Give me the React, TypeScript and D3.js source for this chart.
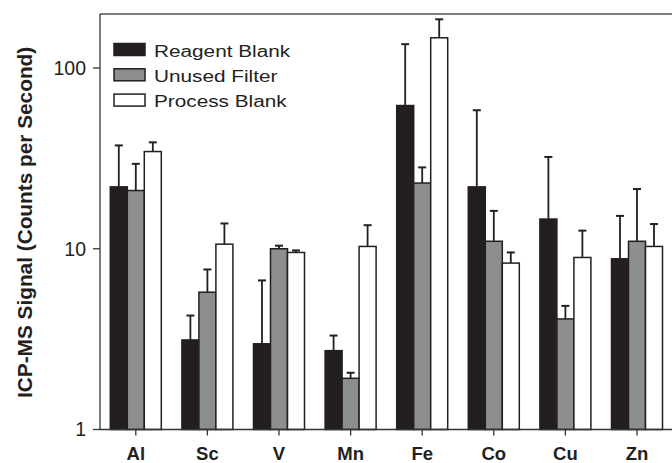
import React from "react";
import * as d3 from "d3";

const categories = ["Al", "Sc", "V", "Mn", "Fe", "Co", "Cu", "Zn"];
const seriesNames = ["Reagent Blank", "Unused Filter", "Process Blank"];
const reagentBlank = [22, 3.13, 2.98, 2.73, 62, 22, 14.6, 8.8];
const reagentBlankErrTop = [37.3, 4.27, 6.68, 3.31, 135.5, 58.4, 32.2, 15.2];
const unusedFilter = [21, 5.75, 10.0, 1.92, 23.1, 11.0, 4.09, 11.0];
const unusedFilterErrTop = [29.5, 7.68, 10.4, 2.06, 28.2, 16.2, 4.83, 21.4];
const processBlank = [34.5, 10.6, 9.54, 10.3, 147, 8.33, 8.95, 10.3];
const processBlankErrTop = [38.8, 13.8, 9.79, 13.5, 186, 9.54, 12.6, 13.7];
const yTicks = [1, 10, 100];

const values = [reagentBlank, unusedFilter, processBlank];
const errTops = [reagentBlankErrTop, unusedFilterErrTop, processBlankErrTop];
const fills = ["#231f20", "#8d8e90", "#ffffff"];

export default function App() {
  const W = 672, H = 463;
  const left = 100, right = 672.8, top = 14, bottom = 429.5;
  const y = d3.scaleLog().domain([1, 199]).range([bottom, top]);
  const x0 = d3.scaleBand().domain(categories).range([left, right]).padding(0);
  const bw = x0.bandwidth();
  const groupW = 51;
  const x1 = d3.scaleBand().domain(seriesNames).range([0, groupW]).padding(0);
  const barW = x1.bandwidth();
  const dark = "#231f20";
  const font = "'Liberation Sans', Arial, sans-serif";

  return (
    <svg width={W} height={H} style={{ position: "absolute", left: 0, top: 0 }} fontFamily={font}>
      <rect x={0} y={0} width={W} height={H} fill="#fff" />
      {/* top border */}
      <line x1={left} x2={W} y1={top} y2={top} stroke="#555" strokeWidth={1.3} />
      {/* bars */}
      {categories.map((c, ci) => {
        const gx = (x0(c) as number) + bw / 2 - groupW / 2;
        return (
          <g key={c}>
            {seriesNames.map((s, si) => {
              const v = values[si][ci];
              const e = errTops[si][ci];
              const bx = gx + (x1(s) as number);
              const cx = bx + barW / 2;
              return (
                <g key={s}>
                  <line x1={cx} x2={cx} y1={y(v)} y2={y(e)} stroke={dark} strokeWidth={1.8} />
                  <line x1={cx - 4} x2={cx + 4} y1={y(e)} y2={y(e)} stroke={dark} strokeWidth={2} />
                  <rect x={bx} y={y(v)} width={barW} height={bottom - y(v)} fill={fills[si]} stroke={dark} strokeWidth={1.5} />
                </g>
              );
            })}
          </g>
        );
      })}
      {/* axes */}
      <line x1={left} x2={left} y1={top} y2={bottom} stroke="#333" strokeWidth={1.3} />
      <line x1={left} x2={W} y1={bottom} y2={bottom} stroke="#333" strokeWidth={1.3} />
      {yTicks.map((t) => (
        <g key={t}>
          <line x1={left - 7} x2={left} y1={y(t)} y2={y(t)} stroke="#333" strokeWidth={1.3} />
          <text x={left - 14} y={y(t)} dy="0.35em" textAnchor="end" fontSize={19.5} fill="#231f20">{t}</text>
        </g>
      ))}
      {categories.map((c) => {
        const cx = (x0(c) as number) + bw / 2;
        return (
          <g key={c}>
            <line x1={cx} x2={cx} y1={bottom} y2={bottom + 6} stroke="#333" strokeWidth={1.3} />
            <text x={cx} y={459.5} textAnchor="middle" fontSize={18.5} fontWeight="bold" fill="#231f20">{c}</text>
          </g>
        );
      })}
      <text transform={`translate(31.5,222.4) rotate(-90)`} textAnchor="middle" fontSize={20.8} fontWeight="bold" fill="#231f20">
        ICP-MS Signal (Counts per Second)
      </text>
      {/* legend */}
      {seriesNames.map((s, i) => (
        <g key={s} transform={`translate(0,${i * 25.3})`}>
          <rect x={114} y={43.5} width={31} height={12} fill={fills[i]} stroke={dark} strokeWidth={1.5} />
          <g transform="translate(154,56.5) scale(1.2,1)">
            <text x={0} y={0} fontSize={17.3} fill="#231f20">{s}</text>
          </g>
        </g>
      ))}
    </svg>
  );
}
